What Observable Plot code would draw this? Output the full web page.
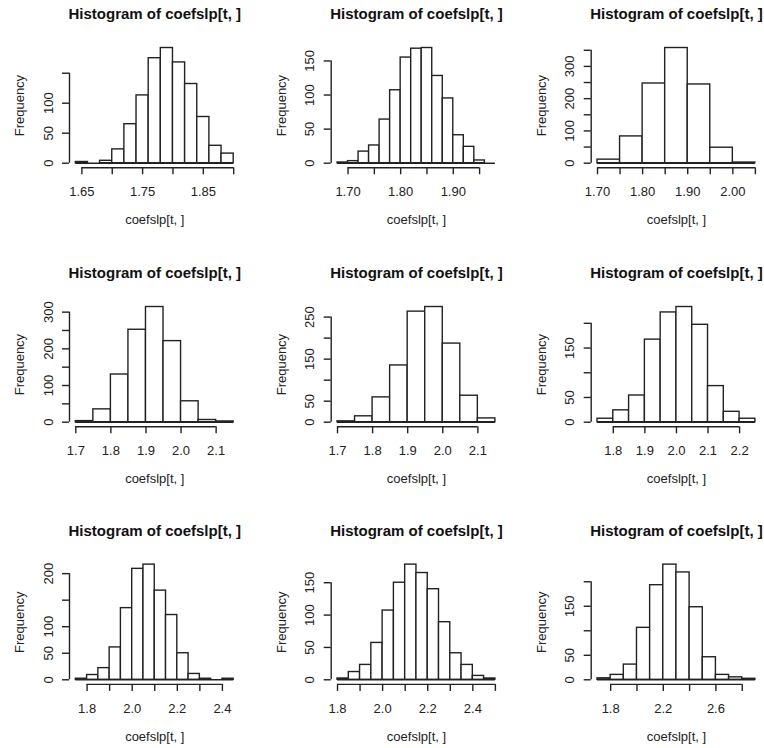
<!DOCTYPE html>
<html><head><meta charset="utf-8">
<script src="https://cdn.jsdelivr.net/npm/d3@7"></script>
<script src="https://cdn.jsdelivr.net/npm/@observablehq/plot@0.6"></script>
<style>
html,body{margin:0;padding:0;background:#fff;}
#chart{position:relative;width:764px;height:748px;overflow:hidden;background:#fff;}
#chart svg{position:absolute;left:0;top:0;}
</style></head><body><div id="chart"></div>
<script>
// ---- text ----
const titleText = "Histogram of coefslp[t, ]";
const xTitle = "coefslp[t, ]";
const yTitle = "Frequency";

// ---- data (bin breaks and counts) ----
const breaks1 = [1.64,1.66,1.68,1.70,1.72,1.74,1.76,1.78,1.80,1.82,1.84,1.86,1.88,1.90];
const counts1 = [2,0,4,23,65,113,175,192,168,132,77,29,16];
const breaks2 = [1.68,1.70,1.72,1.74,1.76,1.78,1.80,1.82,1.84,1.86,1.88,1.90,1.92,1.94,1.96,1.98];
const counts2 = [1,3,17,26,64,107,155,168,169,128,95,41,24,4,0];
const breaks3 = [1.70,1.75,1.80,1.85,1.90,1.95,2.00,2.05];
const counts3 = [11,83,247,357,244,48,2];
const breaks4 = [1.70,1.75,1.80,1.85,1.90,1.95,2.00,2.05,2.10,2.15];
const counts4 = [3,35,130,252,314,221,57,6,2];
const breaks5 = [1.70,1.75,1.80,1.85,1.90,1.95,2.00,2.05,2.10,2.15];
const counts5 = [2,14,59,135,263,274,187,63,9];
const breaks6 = [1.75,1.80,1.85,1.90,1.95,2.00,2.05,2.10,2.15,2.20,2.25];
const counts6 = [7,24,54,167,222,233,197,73,21,7];
const breaks7 = [1.75,1.80,1.85,1.90,1.95,2.00,2.05,2.10,2.15,2.20,2.25,2.30,2.35,2.40,2.45];
const counts7 = [2,9,22,61,135,209,217,168,122,50,11,2,0,2];
const breaks8 = [1.80,1.85,1.90,1.95,2.00,2.05,2.10,2.15,2.20,2.25,2.30,2.35,2.40,2.45,2.50];
const counts8 = [2,12,23,57,107,150,178,165,140,89,41,23,6,2];
const breaks9 = [1.7,1.8,1.9,2.0,2.1,2.2,2.3,2.4,2.5,2.6,2.7,2.8,2.9];
const counts9 = [3,10,31,106,193,235,219,148,46,10,5,2];

// ---- tick values and tick labels ("" = tick without label) ----
const xTicks1 = [1.65,1.70,1.75,1.80,1.85,1.90];
const xLabels1 = ["1.65","","1.75","","1.85",""];
const xTicks2 = [1.70,1.75,1.80,1.85,1.90,1.95];
const xLabels2 = ["1.70","","1.80","","1.90",""];
const xTicks3 = [1.70,1.75,1.80,1.85,1.90,1.95,2.00,2.05];
const xLabels3 = ["1.70","","1.80","","1.90","","2.00",""];
const xTicks4 = [1.7,1.8,1.9,2.0,2.1];
const xLabels4 = ["1.7","1.8","1.9","2.0","2.1"];
const xTicks5 = [1.7,1.8,1.9,2.0,2.1];
const xLabels5 = ["1.7","1.8","1.9","2.0","2.1"];
const xTicks6 = [1.8,1.9,2.0,2.1,2.2];
const xLabels6 = ["1.8","1.9","2.0","2.1","2.2"];
const xTicks7 = [1.8,1.9,2.0,2.1,2.2,2.3,2.4];
const xLabels7 = ["1.8","","2.0","","2.2","","2.4"];
const xTicks8 = [1.8,1.9,2.0,2.1,2.2,2.3,2.4,2.5];
const xLabels8 = ["1.8","","2.0","","2.2","","2.4",""];
const xTicks9 = [1.8,2.0,2.2,2.4,2.6,2.8];
const xLabels9 = ["1.8","","2.2","","2.6",""];

const yTicks1 = [0,50,100,150];
const yLabels1 = ["0","50","100",""];
const yTicks2 = [0,50,100,150];
const yLabels2 = ["0","50","100","150"];
const yTicks3 = [0,50,100,150,200,250,300,350];
const yLabels3 = ["0","","100","","200","","300",""];
const yTicks4 = [0,50,100,150,200,250,300];
const yLabels4 = ["0","","100","","200","","300"];
const yTicks5 = [0,50,100,150,200,250];
const yLabels5 = ["0","50","","150","","250"];
const yTicks6 = [0,50,100,150,200];
const yLabels6 = ["0","50","","150",""];
const yTicks7 = [0,50,100,150,200];
const yLabels7 = ["0","50","100","","200"];
const yTicks8 = [0,50,100,150];
const yLabels8 = ["0","50","100","150"];
const yTicks9 = [0,50,100,150,200];
const yLabels9 = ["0","50","","150",""];

// ---- layout ----
const W = 764, H = 748;
const colLeft = [69, 330.7, 590.7];
const rowTop = [42.9, 301.9, 559.5];
const frameW = 170.5, frameH = 124.4;
const ink = "#222222";
const sw = 1.4;
const font = "'Liberation Sans', Arial, sans-serif";

const panels = [
  {breaks: breaks1, counts: counts1, xTicks: xTicks1, xLabels: xLabels1, yTicks: yTicks1, yLabels: yLabels1},
  {breaks: breaks2, counts: counts2, xTicks: xTicks2, xLabels: xLabels2, yTicks: yTicks2, yLabels: yLabels2},
  {breaks: breaks3, counts: counts3, xTicks: xTicks3, xLabels: xLabels3, yTicks: yTicks3, yLabels: yLabels3},
  {breaks: breaks4, counts: counts4, xTicks: xTicks4, xLabels: xLabels4, yTicks: yTicks4, yLabels: yLabels4},
  {breaks: breaks5, counts: counts5, xTicks: xTicks5, xLabels: xLabels5, yTicks: yTicks5, yLabels: yLabels5},
  {breaks: breaks6, counts: counts6, xTicks: xTicks6, xLabels: xLabels6, yTicks: yTicks6, yLabels: yLabels6},
  {breaks: breaks7, counts: counts7, xTicks: xTicks7, xLabels: xLabels7, yTicks: yTicks7, yLabels: yLabels7},
  {breaks: breaks8, counts: counts8, xTicks: xTicks8, xLabels: xLabels8, yTicks: yTicks8, yLabels: yLabels8},
  {breaks: breaks9, counts: counts9, xTicks: xTicks9, xLabels: xLabels9, yTicks: yTicks9, yLabels: yLabels9}
];

const chart = document.getElementById("chart");

panels.forEach((p, k) => {
  const col = k % 3, row = Math.floor(k / 3);
  const left = colLeft[col], top = rowTop[row];
  const lo = p.breaks[0], hi = p.breaks[p.breaks.length - 1], r = hi - lo;
  const ymax = d3.max(p.counts);
  const xMin = lo - 0.04 * r, xMax = hi + 0.04 * r;
  const yMin = -0.04 * ymax, yMax = 1.04 * ymax;
  const bins = p.counts.map((c, i) => ({x1: p.breaks[i], x2: p.breaks[i + 1], c}));
  const xl = p.xTicks.map((v, i) => ({v, t: p.xLabels[i]})).filter(d => d.t !== "");
  const yl = p.yTicks.map((v, i) => ({v, t: p.yLabels[i]})).filter(d => d.t !== "");
  const mid = {textAnchor: "middle", lineAnchor: "middle"};

  const svg = Plot.plot({
    width: W, height: H,
    marginLeft: left, marginRight: W - left - frameW,
    marginTop: top, marginBottom: H - top - frameH,
    x: {domain: [xMin, xMax], axis: null},
    y: {domain: [yMin, yMax], axis: null},
    style: {background: "transparent", fontFamily: font, fontSize: "13px", color: ink, overflow: "visible"},
    marks: [
      // histogram bars
      Plot.rect(bins.filter(b => b.c > 0), {x1: "x1", x2: "x2", y1: 0, y2: "c", fill: "white", stroke: ink, strokeWidth: sw}),
      // baseline (bottom edges of bars, incl. empty bins)
      Plot.ruleY([0], {x1: lo, x2: hi, stroke: ink, strokeWidth: sw}),
      // axis lines (R style: from first to last tick)
      Plot.ruleY([yMin], {x1: p.xTicks[0], x2: p.xTicks[p.xTicks.length - 1], stroke: ink, strokeWidth: sw}),
      Plot.ruleX([xMin], {y1: p.yTicks[0], y2: p.yTicks[p.yTicks.length - 1], stroke: ink, strokeWidth: sw}),
      // ticks
      Plot.axisX({ticks: p.xTicks, tickSize: 7, tickFormat: () => "", stroke: ink, strokeWidth: sw, label: null}),
      Plot.axisY({ticks: p.yTicks, tickSize: 7, tickFormat: () => "", stroke: ink, strokeWidth: sw, label: null}),
      // tick labels
      Plot.text(xl, {x: "v", text: "t", frameAnchor: "bottom", dy: 24, fill: ink, fontSize: 13, ...mid}),
      Plot.text(yl, {y: "v", text: "t", frameAnchor: "left", dx: -21, rotate: -90, fill: ink, fontSize: 13, ...mid}),
      // titles
      Plot.text([titleText], {text: d => d, frameAnchor: "top", dy: -29, fontWeight: "bold", fontSize: 15, fill: "#111", ...mid}),
      Plot.text([xTitle], {text: d => d, frameAnchor: "bottom", dy: 52.5, fontSize: 13, fill: ink, ...mid}),
      Plot.text([yTitle], {text: d => d, frameAnchor: "left", dx: -49.5, rotate: -90, fontSize: 13, fill: ink, ...mid})
    ]
  });
  chart.appendChild(svg);
});
</script>
</body></html>
